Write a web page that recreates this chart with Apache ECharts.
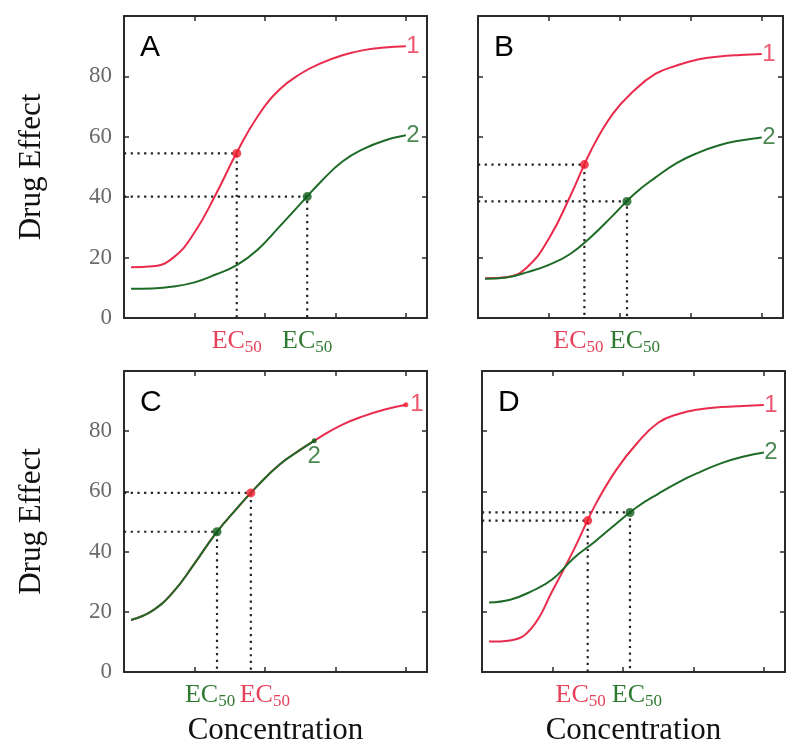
<!DOCTYPE html>
<html><head><meta charset="utf-8">
<script src="https://cdn.jsdelivr.net/npm/echarts@6/dist/echarts.min.js"></script>
<style>html,body{margin:0;padding:0;background:#fff}#c{width:800px;height:756px}</style>
</head><body><div id="c"></div>
<script>
// ---- data ----
const xTicks = [1, 2, 3, 4];
const yTicks = [0, 20, 40, 60, 80];
const panelLetters = ['A', 'B', 'C', 'D'];
const yTitle = 'Drug Effect';
const xTitle = 'Concentration';
const ecMain = 'EC';
const ecSub = '50';
const curveNames = ['1', '2'];

// concentration positions (in tick units) at which the curves were read
const concX = [0.1, 0.4, 0.7, 1.0, 1.3, 1.6, 1.9, 2.2, 2.5, 2.8, 3.1, 3.4, 3.7, 4.0];

const aRedY   = [16.8, 17.1, 20.0, 28.3, 40.8, 54.8, 66.9, 75.5, 80.8, 84.4, 87.0, 88.7, 89.6, 90.0];
const aGreenY = [9.7, 9.8, 10.4, 11.8, 14.4, 17.5, 22.7, 30.1, 37.7, 45.3, 51.8, 56.0, 58.8, 60.5];
const aRedEC = [1.6, 54.5];
const aGreenEC = [2.6, 40.2];

const bRedY   = [13.2, 13.5, 17.0, 26.3, 40.3, 55.8, 67.6, 75.3, 80.8, 83.6, 85.6, 86.6, 87.1, 87.4];
const bGreenY = [13.0, 13.4, 15.2, 17.6, 21.2, 27.0, 33.9, 41.0, 46.5, 51.3, 54.7, 57.2, 58.8, 59.8];
const bRedEC = [1.5, 50.8];
const bGreenEC = [2.1, 38.6];

const cRedY   = [17.3, 20.3, 26.6, 36.0, 46.0, 54.3, 62.0, 68.8, 73.8, 78.3, 82.2, 85.0, 87.2, 88.8];
const cGreenX = [0.1, 0.4, 0.7, 1.0, 1.3, 1.6, 1.9, 2.2, 2.5, 2.7];
const cGreenY = [17.3, 20.3, 26.6, 36.0, 46.0, 54.3, 62.0, 68.8, 73.8, 76.8];
const cRedEC = [1.8, 59.5];
const cGreenEC = [1.32, 46.6];

const dRedY   = [10.1, 10.5, 14.5, 27.0, 40.5, 55.2, 67.0, 76.0, 82.8, 85.8, 87.3, 88.0, 88.4, 88.7];
const dGreenY = [23.1, 24.0, 26.8, 30.8, 37.8, 43.3, 49.2, 54.8, 59.2, 63.2, 66.5, 69.4, 71.5, 72.9];
const dRedEC = [1.5, 50.3];
const dGreenEC = [2.1, 53.0];

// ---- styles / layout ----
const RED = '#ea2c4c', GREEN = '#1e6b28';
const REDDOT = '#f01c2c', GREENDOT = '#0e5c18';
const REDTXT = '#e6405a', GREENTXT = '#2e7a30';
const AXIS = '#2a2a2a';
const SERIF = 'Liberation Serif', SANS = 'Liberation Sans';

const panels = [
  { grid: {left: 124, top: 16, width: 303, height: 302}, red: [concX, aRedY, aRedEC], green: [concX, aGreenY, aGreenEC],
    shift: [0, 0], yLab: true, xName: false, greenPos: 'right', endDots: false },
  { grid: {left: 478, top: 16, width: 305, height: 302}, red: [concX, bRedY, bRedEC], green: [concX, bGreenY, bGreenEC],
    shift: [-6, 8], yLab: false, xName: false, greenPos: 'right', endDots: false },
  { grid: {left: 124, top: 371, width: 303, height: 301}, red: [concX, cRedY, cRedEC], green: [cGreenX, cGreenY, cGreenEC],
    shift: [14, -7], yLab: true, xName: true, greenPos: 'bottom', endDots: true },
  { grid: {left: 482, top: 371, width: 303, height: 301}, red: [concX, dRedY, dRedEC], green: [concX, dGreenY, dGreenEC],
    shift: [-7, 7], yLab: false, xName: true, greenPos: 'right', endDots: false }
];

const grid = [], xAxis = [], yAxis = [], series = [], graphic = [];
panels.forEach((p, i) => {
  grid.push(p.grid);
  const redEC = p.red[2], greenEC = p.green[2];
  const line = {show: true, onZero: false, lineStyle: {color: AXIS, width: 2}};
  const tick = {show: true, inside: true, length: 5, lineStyle: {color: AXIS, width: 1.5}};
  const xBase = {gridIndex: i, type: 'value', min: 0, max: 4.3, splitLine: {show: false}};
  const xi = xAxis.length, yi = yAxis.length;
  xAxis.push(Object.assign({}, xBase, {
    position: 'bottom', axisLine: line, axisTick: Object.assign({customValues: xTicks}, tick),
    axisLabel: {show: false},
    name: p.xName ? xTitle : '', nameLocation: 'middle', nameGap: 43,
    nameTextStyle: {fontFamily: SERIF, fontSize: 31, color: '#111'}
  }));
  xAxis.push(Object.assign({}, xBase, {
    position: 'top', axisLine: line, axisTick: Object.assign({customValues: xTicks}, tick),
    axisLabel: {show: false}
  }));
  [[redEC, REDTXT, p.shift[0]], [greenEC, GREENTXT, p.shift[1]]].forEach(([ec, col, s]) => {
    const w = Math.abs(2 * s);
    xAxis.push(Object.assign({}, xBase, {
      position: 'bottom', axisLine: {show: false}, axisTick: {show: false},
      axisLabel: {show: true, customValues: [ec[0]], margin: 8, hideOverlap: false,
        formatter: () => (s > 0 ? '{g| }' : '') + '{m|' + ecMain + '}{s|' + ecSub + '}' + (s < 0 ? '{g| }' : ''),
        rich: {
          m: {fontFamily: SERIF, fontSize: 26, color: col, lineHeight: 30},
          s: {fontFamily: SERIF, fontSize: 17, color: col, verticalAlign: 'bottom', lineHeight: 30},
          g: {width: w, fontSize: 10}
        }}
    }));
  });
  yAxis.push({
    gridIndex: i, type: 'value', min: 0, max: 100, interval: 20, position: 'left',
    axisLine: line, axisTick: tick,
    axisLabel: {show: p.yLab, margin: 12, fontFamily: SERIF, fontSize: 23, color: '#6a6a6a',
      formatter: v => yTicks.includes(v) ? String(v) : ''},
    splitLine: {show: false},
    name: p.yLab ? yTitle : '', nameLocation: 'middle', nameGap: 77,
    nameTextStyle: {fontFamily: SERIF, fontSize: 31, color: '#111'}
  });
  yAxis.push({
    gridIndex: i, type: 'value', min: 0, max: 100, interval: 20, position: 'right',
    axisLine: line, axisTick: tick, axisLabel: {show: false}, splitLine: {show: false}
  });
  [redEC, greenEC].forEach(ec => {
    series.push({
      type: 'line', xAxisIndex: xi, yAxisIndex: yi, symbol: 'none', silent: true, z: 1,
      data: [[0, ec[1]], [ec[0], ec[1]], [ec[0], 0]],
      lineStyle: {color: '#222', width: 2.2, type: [2.2, 4.5]}
    });
  });
  const pts = (xs, ys) => xs.map((x, k) => [x, ys[k]]);
  series.push({type: 'line', xAxisIndex: xi, yAxisIndex: yi, symbol: 'none', smooth: 0.45, z: 2,
    data: pts(p.red[0], p.red[1]), lineStyle: {color: RED, width: 2}});
  series.push({type: 'line', xAxisIndex: xi, yAxisIndex: yi, symbol: 'none', smooth: 0.45, z: 3,
    data: pts(p.green[0], p.green[1]), lineStyle: {color: GREEN, width: 2}});
  series.push({type: 'scatter', xAxisIndex: xi, yAxisIndex: yi, symbolSize: 9, z: 5, silent: true,
    data: [{value: redEC, itemStyle: {color: REDDOT}}, {value: greenEC, itemStyle: {color: GREENDOT}}]});
  const last = (a) => a[a.length - 1];
  const endItem = (xs, ys, col, dotCol, name, pos) => ({
    value: [last(xs), last(ys)],
    itemStyle: {color: p.endDots ? dotCol : 'rgba(0,0,0,0)'},
    label: {show: true, formatter: name, position: pos, distance: pos === 'right' ? (p.endDots ? 2 : 0) : 1,
      color: col, fontFamily: SANS, fontSize: 24}
  });
  series.push({type: 'scatter', xAxisIndex: xi, yAxisIndex: yi, symbolSize: p.endDots ? 5 : 1, z: 6, silent: true,
    data: [endItem(p.red[0], p.red[1], RED, REDDOT, curveNames[0], 'right'),
           endItem(p.green[0], p.green[1], GREEN, GREENDOT, curveNames[1], p.greenPos)]});
  graphic.push({type: 'text', left: p.grid.left + 16, top: p.grid.top + 17,
    style: {text: panelLetters[i], fontFamily: SANS, fontSize: 30, fill: '#000'}});
});

const chart = echarts.init(document.getElementById('c'));
chart.setOption({animation: false, backgroundColor: '#fff', grid, xAxis, yAxis, series, graphic});
</script>
</body></html>
